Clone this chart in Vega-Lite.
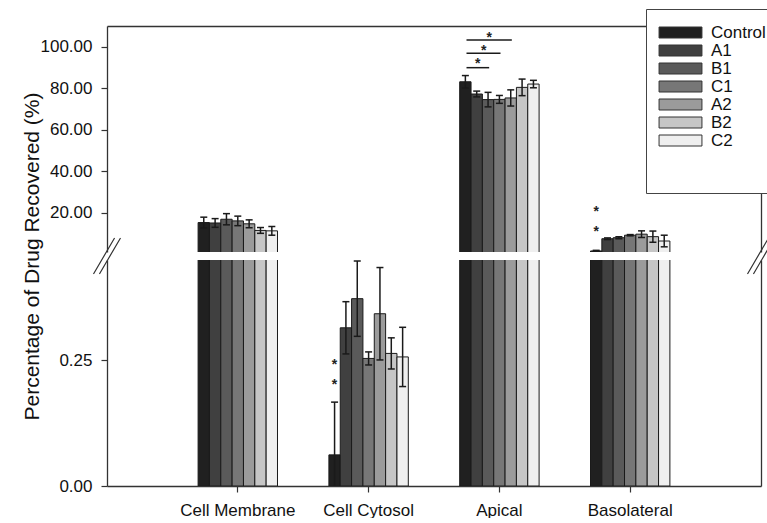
{
  "$schema": "https://vega.github.io/schema/vega-lite/v6.json",
  "padding": {"left": 21, "top": 8, "right": 0, "bottom": 0},
  "bounds": "flush",
  "spacing": 8,
  "config": {
    "font": "Liberation Sans",
    "view": {"stroke": null},
    "axis": {"grid": false, "domainColor": "#333", "domainWidth": 1.3, "tickColor": "#333", "tickWidth": 1.2, "tickSize": 6, "labelColor": "#111", "labelFontSize": 17, "labelFont": "Liberation Sans", "titleFont": "Liberation Sans", "titleFontWeight": "normal", "titleColor": "#111"}
  },
  "datasets": {
    "bars": [
      {"group": "Cell Membrane", "series": "Control", "value": 15.2, "lo": 12.6, "hi": 17.8},
      {"group": "Cell Membrane", "series": "A1", "value": 15.0, "lo": 12.9, "hi": 17.1},
      {"group": "Cell Membrane", "series": "B1", "value": 16.8, "lo": 14.1, "hi": 19.5},
      {"group": "Cell Membrane", "series": "C1", "value": 16.0, "lo": 13.7, "hi": 18.3},
      {"group": "Cell Membrane", "series": "A2", "value": 14.6, "lo": 12.7, "hi": 16.5},
      {"group": "Cell Membrane", "series": "B2", "value": 11.4, "lo": 10.0, "hi": 12.8},
      {"group": "Cell Membrane", "series": "C2", "value": 11.2, "lo": 9.1, "hi": 13.3},
      {"group": "Cell Cytosol", "series": "Control", "value": 0.062, "lo": -0.043, "hi": 0.167},
      {"group": "Cell Cytosol", "series": "A1", "value": 0.315, "lo": 0.263, "hi": 0.367},
      {"group": "Cell Cytosol", "series": "B1", "value": 0.373, "lo": 0.298, "hi": 0.448},
      {"group": "Cell Cytosol", "series": "C1", "value": 0.254, "lo": 0.241, "hi": 0.267},
      {"group": "Cell Cytosol", "series": "A2", "value": 0.343, "lo": 0.251, "hi": 0.435},
      {"group": "Cell Cytosol", "series": "B2", "value": 0.264, "lo": 0.233, "hi": 0.295},
      {"group": "Cell Cytosol", "series": "C2", "value": 0.257, "lo": 0.198, "hi": 0.316},
      {"group": "Apical", "series": "Control", "value": 83.1, "lo": 80.1, "hi": 86.1},
      {"group": "Apical", "series": "A1", "value": 77.2, "lo": 75.8, "hi": 78.6},
      {"group": "Apical", "series": "B1", "value": 74.5, "lo": 71.0, "hi": 78.0},
      {"group": "Apical", "series": "C1", "value": 74.6, "lo": 72.7, "hi": 76.5},
      {"group": "Apical", "series": "A2", "value": 75.3, "lo": 71.4, "hi": 79.2},
      {"group": "Apical", "series": "B2", "value": 80.4, "lo": 76.4, "hi": 84.4},
      {"group": "Apical", "series": "C2", "value": 82.0, "lo": 80.2, "hi": 83.8},
      {"group": "Basolateral", "series": "Control", "value": 1.5, "lo": 1.2, "hi": 1.8},
      {"group": "Basolateral", "series": "A1", "value": 7.4, "lo": 7.0, "hi": 7.8},
      {"group": "Basolateral", "series": "B1", "value": 7.9, "lo": 7.4, "hi": 8.4},
      {"group": "Basolateral", "series": "C1", "value": 9.1, "lo": 8.8, "hi": 9.4},
      {"group": "Basolateral", "series": "A2", "value": 9.6, "lo": 8.0, "hi": 11.2},
      {"group": "Basolateral", "series": "B2", "value": 8.4, "lo": 5.7, "hi": 11.1},
      {"group": "Basolateral", "series": "C2", "value": 6.3, "lo": 3.5, "hi": 9.1}
    ],
    "stars": [
      {"group": "Cell Cytosol", "series": "Control", "level": 0.247},
      {"group": "Cell Cytosol", "series": "Control", "level": 0.207},
      {"group": "Basolateral", "series": "Control", "level": 21.9},
      {"group": "Basolateral", "series": "Control", "level": 12.3}
    ],
    "sig": [
      {"from": "Control", "to": "B1", "level": 89.9},
      {"from": "Control", "to": "C1", "level": 96.9},
      {"from": "Control", "to": "A2", "level": 103.3}
    ],
    "sigstars": [
      {"at": "A1", "level": 93.1},
      {"at": "B1", "level": 105.7}
    ],
    "sigstarmid": [
      {"at": "A1", "level": 99.4}
    ],
    "edges": [{"edge": 0}, {"edge": 1}]
  },
  "vconcat": [
    {
      "width": 654,
      "height": 226,
      "layer": [
        {
          "data": {"name": "bars"},
          "encoding": {
            "x": {"field": "group", "type": "nominal", "scale": {"domain": ["Cell Membrane", "Cell Cytosol", "Apical", "Basolateral"], "paddingInner": 0.393, "paddingOuter": 0.6965}, "axis": {"orient": "top", "labels": false, "ticks": false, "title": null}},
            "xOffset": {"field": "series", "type": "nominal", "scale": {"domain": ["Control", "A1", "B1", "C1", "A2", "B2", "C2"], "paddingInner": 0, "paddingOuter": 0}}
          },
          "layer": [
            {
              "mark": {"type": "bar", "clip": true, "stroke": "#1a1a1a", "strokeWidth": 1},
              "encoding": {
                "y": {"field": "value", "type": "quantitative", "title": "Percentage of Drug Recovered (%)", "scale": {"domain": [1, 110], "zero": false, "nice": false}, "axis": {"values": [20, 40, 60, 80, 100], "format": ".2f", "labelPadding": 9, "titleFontSize": 21, "titleY": 230, "titlePadding": -2}},
                "color": {"field": "series", "type": "nominal", "scale": {"domain": ["Control", "A1", "B1", "C1", "A2", "B2", "C2"], "range": ["#202020", "#404040", "#5a5a5a", "#777777", "#9b9b9b", "#c6c6c6", "#efefef"]}, "legend": {"title": "\u00a0", "titleOrient": "bottom", "titleFontSize": 22, "titlePadding": 8, "orient": "none", "legendX": 539, "legendY": -17, "symbolType": "M-3.9,-1H3.9V1H-3.9Z", "symbolSize": 121, "symbolStrokeColor": "#333", "symbolStrokeWidth": 1, "symbolOpacity": 1, "labelFontSize": 17, "labelColor": "#111", "strokeColor": "#444", "fillColor": "white", "padding": 15, "rowPadding": 0, "symbolOffset": 11, "labelOffset": 22}}
              }
            },
            {
              "mark": {"type": "rule", "clip": true, "color": "#1a1a1a", "strokeWidth": 1.5},
              "encoding": {"y": {"field": "lo", "type": "quantitative", "title": "Percentage of Drug Recovered (%)"}, "y2": {"field": "hi"}}
            },
            {
              "mark": {"type": "tick", "clip": true, "color": "#1a1a1a", "thickness": 1.5, "size": 7, "opacity": 1},
              "encoding": {"y": {"field": "hi", "type": "quantitative", "title": "Percentage of Drug Recovered (%)"}}
            },
            {
              "mark": {"type": "tick", "clip": true, "color": "#1a1a1a", "thickness": 1.5, "size": 7, "opacity": 1},
              "encoding": {"y": {"field": "lo", "type": "quantitative", "title": "Percentage of Drug Recovered (%)"}}
            },
            {
              "data": {"name": "stars"},
              "transform": [{"filter": "datum.level > 1"}],
              "mark": {"type": "text", "text": "*", "clip": true, "fontSize": 14, "fontWeight": "bold", "color": "#222", "baseline": "middle", "dy": 3},
              "encoding": {"y": {"field": "level", "type": "quantitative", "title": "Percentage of Drug Recovered (%)"}}
            }
          ]
        },
        {
          "data": {"name": "sig"},
          "mark": {"type": "rule", "color": "#1a1a1a", "strokeWidth": 1.5},
          "encoding": {
            "x": {"field": "from", "type": "nominal", "scale": {"type": "point", "domain": ["Control", "A1", "B1", "C1", "A2", "B2", "C2"], "range": [359.5, 427.5], "padding": 0}, "axis": null},
            "x2": {"field": "to"},
            "y": {"field": "level", "type": "quantitative", "axis": null}
          }
        },
        {
          "data": {"name": "sigstars"},
          "mark": {"type": "text", "text": "*", "fontSize": 14, "fontWeight": "bold", "color": "#222", "baseline": "middle", "dy": 3},
          "encoding": {
            "x": {"field": "at", "type": "nominal", "scale": {"type": "point", "domain": ["Control", "A1", "B1", "C1", "A2", "B2", "C2"], "range": [359.5, 427.5], "padding": 0}, "axis": null},
            "y": {"field": "level", "type": "quantitative", "axis": null}
          }
        },
        {
          "data": {"name": "sigstarmid"},
          "mark": {"type": "text", "text": "*", "fontSize": 14, "fontWeight": "bold", "color": "#222", "baseline": "middle", "dy": 3, "dx": 6},
          "encoding": {
            "x": {"field": "at", "type": "nominal", "scale": {"type": "point", "domain": ["Control", "A1", "B1", "C1", "A2", "B2", "C2"], "range": [359.5, 427.5], "padding": 0}, "axis": null},
            "y": {"field": "level", "type": "quantitative", "axis": null}
          }
        },
        {
          "data": {"name": "edges"},
          "mark": {"type": "point", "shape": "M-0.75,1.22L0.42,-0.78M-0.42,1.22L0.75,-0.78", "size": 1296, "filled": false, "color": "#333", "strokeWidth": 1.2, "opacity": 1},
          "encoding": {
            "x": {"field": "edge", "type": "quantitative", "scale": {"domain": [0, 1], "nice": false, "zero": false}, "axis": null},
            "y": {"datum": 1, "type": "quantitative", "axis": {"orient": "right", "labels": false, "ticks": false, "title": null}}
          }
        }
      ],
      "resolve": {"scale": {"x": "independent"}, "axis": {"y": "independent"}}
    },
    {
      "width": 654,
      "height": 226,
      "layer": [
        {
          "data": {"name": "bars"},
          "encoding": {
            "x": {"field": "group", "type": "nominal", "scale": {"domain": ["Cell Membrane", "Cell Cytosol", "Apical", "Basolateral"], "paddingInner": 0.393, "paddingOuter": 0.6965}, "axis": {"orient": "bottom", "labelAngle": 0, "labelPadding": 10, "title": null}},
            "xOffset": {"field": "series", "type": "nominal", "scale": {"domain": ["Control", "A1", "B1", "C1", "A2", "B2", "C2"], "paddingInner": 0, "paddingOuter": 0}}
          },
          "layer": [
            {
              "mark": {"type": "bar", "clip": true, "stroke": "#1a1a1a", "strokeWidth": 1},
              "encoding": {
                "y": {"field": "value", "type": "quantitative", "title": null, "scale": {"domain": [0, 0.45], "nice": false}, "axis": {"values": [0, 0.25], "format": ".2f", "labelPadding": 9}},
                "color": {"field": "series", "type": "nominal", "scale": {"domain": ["Control", "A1", "B1", "C1", "A2", "B2", "C2"], "range": ["#202020", "#404040", "#5a5a5a", "#777777", "#9b9b9b", "#c6c6c6", "#efefef"]}, "legend": {"title": "\u00a0", "titleOrient": "bottom", "titleFontSize": 22, "titlePadding": 8, "orient": "none", "legendX": 539, "legendY": -17, "symbolType": "M-3.9,-1H3.9V1H-3.9Z", "symbolSize": 121, "symbolStrokeColor": "#333", "symbolStrokeWidth": 1, "symbolOpacity": 1, "labelFontSize": 17, "labelColor": "#111", "strokeColor": "#444", "fillColor": "white", "padding": 15, "rowPadding": 0, "symbolOffset": 11, "labelOffset": 22}}
              }
            },
            {
              "mark": {"type": "rule", "clip": true, "color": "#1a1a1a", "strokeWidth": 1.5},
              "encoding": {"y": {"field": "lo", "type": "quantitative", "title": null}, "y2": {"field": "hi"}}
            },
            {
              "mark": {"type": "tick", "clip": true, "color": "#1a1a1a", "thickness": 1.5, "size": 7, "opacity": 1},
              "encoding": {"y": {"field": "hi", "type": "quantitative", "title": null}}
            },
            {
              "mark": {"type": "tick", "clip": true, "color": "#1a1a1a", "thickness": 1.5, "size": 7, "opacity": 1},
              "encoding": {"y": {"field": "lo", "type": "quantitative", "title": null}}
            },
            {
              "data": {"name": "stars"},
              "transform": [{"filter": "datum.level < 0.45"}],
              "mark": {"type": "text", "text": "*", "clip": true, "fontSize": 14, "fontWeight": "bold", "color": "#222", "baseline": "middle", "dy": 3},
              "encoding": {"y": {"field": "level", "type": "quantitative", "title": null}}
            }
          ]
        },
        {
          "data": {"name": "edges"},
          "mark": {"type": "point", "opacity": 0},
          "encoding": {
            "x": {"field": "edge", "type": "quantitative", "scale": {"domain": [0, 1], "nice": false, "zero": false}, "axis": null},
            "y": {"datum": 0, "type": "quantitative", "axis": {"orient": "right", "labels": false, "ticks": false, "title": null}}
          }
        }
      ],
      "resolve": {"scale": {"x": "independent"}, "axis": {"y": "independent"}}
    }
  ]
}
